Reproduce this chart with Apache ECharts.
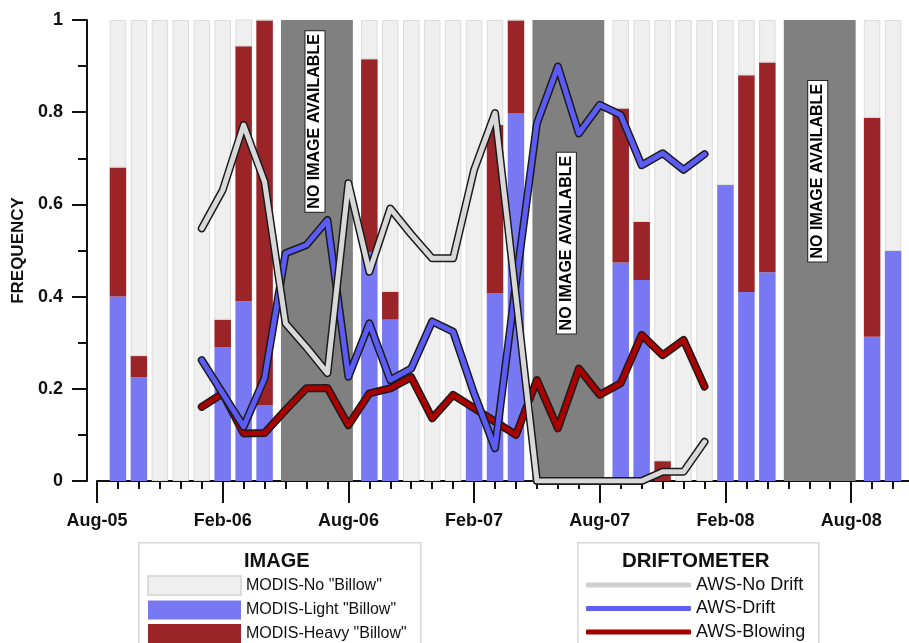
<!DOCTYPE html>
<html>
<head>
<meta charset="utf-8">
<script src="https://cdn.jsdelivr.net/npm/echarts@6/dist/echarts.min.js"></script>
<style>
  html, body { margin: 0; padding: 0; background: #fff; }
  #echart { width: 909px; height: 643px; }
</style>
</head>
<body>
<div id="echart"></div>
<script>
var FONT = '"Liberation Sans", Arial, sans-serif';

// one category per month, Aug-05 .. Nov-08
var months = ['Aug-05', 'Sep-05', 'Oct-05', 'Nov-05', 'Dec-05', 'Jan-06', 'Feb-06', 'Mar-06', 'Apr-06', 'May-06',
    'Jun-06', 'Jul-06', 'Aug-06', 'Sep-06', 'Oct-06', 'Nov-06', 'Dec-06', 'Jan-07', 'Feb-07', 'Mar-07',
    'Apr-07', 'May-07', 'Jun-07', 'Jul-07', 'Aug-07', 'Sep-07', 'Oct-07', 'Nov-07', 'Dec-07', 'Jan-08',
    'Feb-08', 'Mar-08', 'Apr-08', 'May-08', 'Jun-08', 'Jul-08', 'Aug-08', 'Sep-08', 'Oct-08', 'Nov-08'];

// MODIS image classes (frequency per month)
var lightBillow = [null, 0.40, 0.225, 0, 0, 0, 0.29, 0.39, 0.165, null,
    null, null, null, 0.497, 0.35, 0, 0, 0, 0.165, 0.408,
    0.798, null, null, null, null, 0.474, 0.436, 0, 0, 0,
    0.642, 0.41, 0.453, null, null, null, null, 0.313, 0.499, null];
var heavyBillow = [null, 0.28, 0.046, 0, 0, 0, 0.06, 0.553, 0.835, null,
    null, null, null, 0.418, 0.06, 0, 0, 0, 0, 0.364,
    0.202, null, null, null, null, 0.334, 0.126, 0.043, 0, 0,
    0, 0.47, 0.455, null, null, null, null, 0.475, 0, null];
var noBillow = [null, 0.32, 0.729, 1, 1, 1, 0.65, 0.058, 0, null,
    null, null, null, 0.085, 0.59, 1, 1, 1, 0.835, 0.228,
    0, null, null, null, null, 0.192, 0.438, 0.957, 1, 1,
    0.358, 0.12, 0.092, null, null, null, null, 0.212, 0.501, null];

// AWS driftometer (frequency per month)
var awsNoDrift = [null, null, null, null, null, 0.548, 0.631, 0.772, 0.649, 0.342,
    0.29, 0.234, 0.646, 0.454, 0.591, 0.535, 0.483, 0.483, 0.675, 0.798,
    0.40, 0, 0, 0, 0, 0, 0, 0.02, 0.02, 0.085,
    null, null, null, null, null, null, null, null, null, null];
var awsDrift = [null, null, null, null, null, 0.262, 0.19, 0.118, 0.223, 0.494,
    0.512, 0.566, 0.226, 0.342, 0.219, 0.244, 0.346, 0.324, 0.19, 0.071,
    0.43, 0.776, 0.899, 0.754, 0.816, 0.794, 0.685, 0.711, 0.675, 0.709,
    null, null, null, null, null, null, null, null, null, null];
var awsBlowing = [null, null, null, null, null, 0.161, 0.19, 0.103, 0.104, 0.154,
    0.201, 0.202, 0.121, 0.19, 0.201, 0.225, 0.136, 0.187, 0.158, 0.129,
    0.10, 0.219, 0.114, 0.244, 0.187, 0.212, 0.317, 0.273, 0.306, 0.205,
    null, null, null, null, null, null, null, null, null, null];

// months without imagery: [first month index, last month index]
var noImage = [[9, 12], [21, 24], [33, 36]];
var noImageLabelY = [0.78, 0.516, 0.672];

var yTicks = [0, 0.2, 0.4, 0.6, 0.8, 1];

var chartDom = document.getElementById('echart');
var myChart = echarts.init(chartDom);

function barSeries(name, data, color, border) {
    return {
        name: name,
        type: 'bar',
        stack: 'modis',
        data: data,
        barWidth: 16.5,
        itemStyle: { color: color, borderColor: border || color, borderWidth: border ? 1 : 0 },
        z: 2
    };
}

function lineSeries(name, data, color, z) {
    return [{
        name: name + ' outline',
        type: 'line',
        data: data,
        showSymbol: false,
        lineStyle: { color: '#1b1b1b', width: 8, cap: 'round', join: 'round' },
        z: z
    }, {
        name: name,
        type: 'line',
        data: data,
        color: color,
        showSymbol: false,
        lineStyle: { color: color, width: 5, cap: 'round', join: 'round' },
        itemStyle: { color: color },
        z: z
    }];
}

var option = {
    animation: false,
    grid: { left: 97, top: 20, width: 817, height: 461, outerBoundsMode: 'none' },
    xAxis: [{
        type: 'category',
        data: months,
        boundaryGap: false,
        offset: 6,
        axisLine: { lineStyle: { color: '#111', width: 2 } },
        axisTick: { interval: 0, length: 8, lineStyle: { color: '#111', width: 2 } },
        axisLabel: { show: false },
        splitLine: { show: false }
    }, {
        type: 'category',
        data: months,
        boundaryGap: false,
        position: 'bottom',
        offset: 6,
        axisLine: { show: false },
        axisTick: { interval: 5, length: 16, lineStyle: { color: '#111', width: 2 } },
        axisLabel: {
            interval: 5, margin: 25, color: '#111',
            fontFamily: FONT, fontWeight: 'bold', fontSize: 18
        },
        splitLine: { show: false }
    }],
    yAxis: {
        type: 'value',
        min: 0,
        max: 1,
        interval: 0.2,
        offset: 10,
        name: 'FREQUENCY',
        nameLocation: 'middle',
        nameRotate: 90,
        nameGap: 56,
        nameTextStyle: { fontFamily: FONT, fontWeight: 'bold', fontSize: 17, color: '#111' },
        axisLine: { show: true, lineStyle: { color: '#111', width: 2 } },
        axisTick: { show: true, length: 15, lineStyle: { color: '#111', width: 2 } },
        minorTick: { show: true, splitNumber: 2, length: 9, lineStyle: { color: '#111', width: 2 } },
        axisLabel: {
            margin: 24, color: '#111', fontFamily: FONT, fontWeight: 'bold', fontSize: 18,
            formatter: function (v) {
                for (var i = 0; i < yTicks.length; i++) {
                    if (Math.abs(v - yTicks[i]) < 1e-6) return String(yTicks[i]);
                }
                return '';
            }
        },
        splitLine: { show: false },
        minorSplitLine: { show: false }
    },
    legend: [{
        orient: 'vertical',
        left: 147,
        top: 575,
        padding: 0,
        itemWidth: 93,
        itemHeight: 19,
        itemGap: 4.5,
        icon: 'rect',
        selectedMode: false,
        textStyle: { fontFamily: FONT, fontSize: 16, color: '#111' },
        data: ['MODIS-No "Billow"', 'MODIS-Light "Billow"', 'MODIS-Heavy "Billow"']
    }, {
        orient: 'vertical',
        left: 586,
        top: 576,
        padding: 0,
        itemWidth: 105,
        itemHeight: 5,
        itemGap: 5.5,
        icon: 'roundRect',
        selectedMode: false,
        itemStyle: { borderWidth: 0 },
        textStyle: { fontFamily: FONT, fontSize: 18, color: '#111' },
        data: [
            { name: 'AWS-No Drift', itemStyle: { color: '#cfcfcf', borderWidth: 0 } },
            { name: 'AWS-Drift', itemStyle: { color: '#5f5ff5', borderWidth: 0 } },
            { name: 'AWS-Blowing', itemStyle: { color: '#a00000', borderWidth: 0 } }
        ]
    }],
    graphic: [
        {
            type: 'rect', left: 138, top: 542, z: -1,
            shape: { width: 282, height: 110 },
            style: { fill: '#fff', stroke: '#d8d8d8', lineWidth: 1.5 }
        },
        {
            type: 'text', left: 244, top: 551, z: 5,
            style: { text: 'IMAGE', fontFamily: FONT, fontWeight: 'bold', fontSize: 20, fill: '#111' }
        },
        {
            type: 'rect', left: 577, top: 542, z: -1,
            shape: { width: 241, height: 110 },
            style: { fill: '#fff', stroke: '#d8d8d8', lineWidth: 1.5 }
        },
        {
            type: 'text', left: 622, top: 551, z: 5,
            style: { text: 'DRIFTOMETER', fontFamily: FONT, fontWeight: 'bold', fontSize: 20.5, fill: '#111' }
        }
    ],
    series: [
        barSeries('MODIS-Light "Billow"', lightBillow, '#7878f2'),
        barSeries('MODIS-Heavy "Billow"', heavyBillow, '#9a2428'),
        barSeries('MODIS-No "Billow"', noBillow, '#efefef', '#dcdcdc'),
        {
            name: 'no image',
            type: 'custom',
            data: noImage.map(function (d, i) { return [d[0], d[1], noImageLabelY[i]]; }),
            encode: { x: [0, 1], y: 2 },
            z: 3,
            renderItem: function (params, api) {
                var pad = 4.5;
                var p0 = api.coord([api.value(0), 1]);
                var p1 = api.coord([api.value(1), 0]);
                var ly = api.coord([api.value(0), api.value(2)])[1];
                var cx = (p0[0] + p1[0]) / 2;
                return {
                    type: 'group',
                    children: [{
                        type: 'rect',
                        shape: { x: p0[0] - pad, y: p0[1], width: p1[0] - p0[0] + 2 * pad, height: p1[1] - p0[1] },
                        style: { fill: '#808080' }
                    }, {
                        type: 'text',
                        x: cx - 2,
                        y: ly,
                        rotation: Math.PI / 2,
                        style: {
                            text: 'NO IMAGE AVAILABLE',
                            fontFamily: FONT, fontWeight: 'bold', fontSize: 16,
                            fill: '#000',
                            align: 'center', verticalAlign: 'middle',
                            backgroundColor: '#fff', borderColor: '#222', borderWidth: 1,
                            padding: [2, 3, 1, 3]
                        }
                    }]
                };
            }
        }
    ].concat(
        lineSeries('AWS-Blowing', awsBlowing, '#aa0000', 4),
        lineSeries('AWS-Drift', awsDrift, '#5c5cf5', 5),
        lineSeries('AWS-No Drift', awsNoDrift, '#d8d8d8', 6)
    )
};

myChart.setOption(option);

window.addEventListener('resize', function () {
    myChart.resize();
});
</script>
</body>
</html>
